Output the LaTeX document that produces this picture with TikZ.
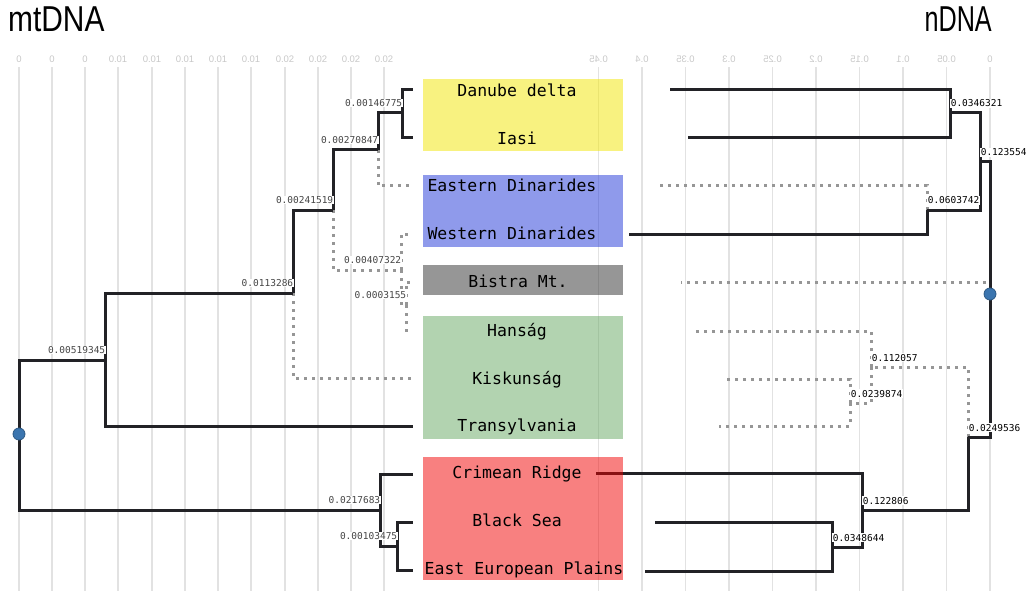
\documentclass[tikz,border=0pt]{standalone}
\usepackage{fontspec}
\usepackage{graphicx}
\setmainfont{Liberation Sans}
\newfontfamily\monofont{DejaVu Sans Mono}
\newfontfamily\titlefont[FakeStretch=0.83]{Liberation Sans}
\newfontfamily\narrowtitlefont[FakeStretch=0.7]{Liberation Sans}
\usetikzlibrary{positioning}

\definecolor{gridgray}{RGB}{226,226,226}
\definecolor{tickgray}{RGB}{200,200,200}
\definecolor{branchblack}{RGB}{34,34,38}
\definecolor{dotgray}{RGB}{150,150,150}
\definecolor{mtlabelgray}{RGB}{70,70,70}
\definecolor{rootblue}{RGB}{59,117,175}
\definecolor{danubeyellow}{RGB}{242,230,2}
\definecolor{dinaridesblue}{RGB}{32,54,215}
\definecolor{bistragray}{RGB}{46,46,46}
\definecolor{pannongreen}{RGB}{102,168,98}
\definecolor{pontusred}{RGB}{241,2,2}

\begin{document}
\begin{tikzpicture}[
				x=1pt, y=-1pt,
				gridline/.style={draw=gridgray, line width=1.3pt},
				ticklabel/.style={text=tickgray, font=\fontsize{9.5}{10}\selectfont, inner sep=0pt},
				group/.style={fill opacity=0.5},
				leaf/.style={font=\monofont\fontsize{16.5}{18}\selectfont, inner sep=0pt, anchor=base},
				branch/.style={draw=branchblack, line width=3pt},
				dotbranch/.style={draw=dotgray, line width=3pt, dash pattern=on 2.8pt off 5.2pt},
				mtlabel/.style={font=\monofont\fontsize{9.5}{10}\selectfont, text=mtlabelgray, anchor=base east,
					fill=white, inner sep=0.6pt, yshift=6.5pt, xshift=1pt},
				nlabel/.style={font=\monofont\fontsize{9.5}{10}\selectfont, text=black, anchor=base west,
					fill=white, inner sep=0.6pt, yshift=6pt},
				rootdot/.style={circle, fill=rootblue, draw=rootblue!75!black, line width=0.8pt,
					minimum size=12pt, inner sep=0pt},
				title/.style={font=\titlefont\fontsize{36}{40}\selectfont, inner sep=0pt}
				]
				\useasboundingbox (0,0) rectangle (1034,591);
				
				\foreach \gx/\gl in {19/0,52/0,85/0,118/0.01,152/0.01,185/0.01,218/0.01,251/0.01,285/0.02,318/0.02,351/0.02,384/0.02} {
					\draw[gridline] (\gx,67) -- (\gx,591);
					\node[ticklabel] at (\gx,59) {\gl};
				}
				\foreach \v in {0.45,0.4,0.35,0.3,0.25,0.2,0.15,0.1,0.05,0} {
					\pgfmathsetmacro{\gx}{990-870*\v}
					\draw[gridline] (\gx,67) -- (\gx,591);
					\node[ticklabel] at (\gx,59) {\scalebox{-1}[1]{\v}};
				}
				
				\node[title, anchor=base west] (mttitle) at (8,32) {mtDNA};
				\node[title, font=\narrowtitlefont\fontsize{36}{40}\selectfont, anchor=base east] (ntitle) at (992,32) {nDNA};
				
				\coordinate (mroot) at (19,434);
				\coordinate (m1) at (105,360);
				\coordinate (m2) at (380,510);
				\coordinate (m3) at (397,546);
				\coordinate (m4) at (293,293);
				\coordinate (m5) at (333,210);
				\coordinate (m6) at (378,150);
				\coordinate (m7) at (401,270);
				\coordinate (m8) at (402,113);
				\coordinate (m9) at (406,305);
				\coordinate (mDanube) at (413,90);
				\coordinate (mIasi) at (413,138);
				\coordinate (mEastern) at (410,186);
				\coordinate (mWestern) at (411,234);
				\coordinate (mBistra) at (412,282);
				\coordinate (mHansag) at (412,330);
				\coordinate (mKisk) at (413,378);
				\coordinate (mTrans) at (413,426);
				\coordinate (mCrimea) at (413,474);
				\coordinate (mBlack) at (413,522);
				\coordinate (mPlains) at (413,570);
				
				\draw[dotbranch] (m4) |- (mKisk);
				\draw[dotbranch] (m5) |- (m7);
				\draw[dotbranch] (m6) |- (mEastern);
				\draw[dotbranch] (m7) |- (mWestern);
				\draw[dotbranch] (m7) |- (m9);
				\draw[dotbranch] (m9) |- (mBistra);
				\draw[dotbranch] (m9) |- (mHansag);
				\draw[branch] (mroot) |- (m1);
				\draw[branch] (mroot) |- (m2);
				\draw[branch] (m1) |- (mTrans);
				\draw[branch] (m1) |- (m4);
				\draw[branch] (m4) |- (m5);
				\draw[branch] (m5) |- (m6);
				\draw[branch] (m6) |- (m8);
				\draw[branch] (m8) |- (mDanube);
				\draw[branch] (m8) |- (mIasi);
				\draw[branch] (m2) |- (mCrimea);
				\draw[branch] (m2) |- (m3);
				\draw[branch] (m3) |- (mBlack);
				\draw[branch] (m3) |- (mPlains);
				
				\coordinate (nroot) at (990,294);
				\coordinate (na) at (950,113);
				\coordinate (nb) at (927,210);
				\coordinate (nc) at (980,162);
				\coordinate (nd) at (968,437);
				\coordinate (ne) at (871,367);
				\coordinate (nf) at (862,510);
				\coordinate (ng) at (850,403);
				\coordinate (nh) at (832,547);
				\coordinate (nDanube) at (670,90);
				\coordinate (nIasi) at (688,138);
				\coordinate (nEastern) at (659,186);
				\coordinate (nWestern) at (629,234);
				\coordinate (nBistra) at (681,282);
				\coordinate (nHansag) at (694,331);
				\coordinate (nKisk) at (726,379);
				\coordinate (nTrans) at (719,426);
				\coordinate (nCrimea) at (596,473);
				\coordinate (nBlack) at (655,522);
				\coordinate (nPlains) at (645,571);
				
				\draw[dotbranch] (nroot) |- (nBistra);
				\draw[dotbranch] (nb) |- (nEastern);
				\draw[dotbranch] (nd) |- (ne);
				\draw[dotbranch] (ne) |- (nHansag);
				\draw[dotbranch] (ne) |- (ng);
				\draw[dotbranch] (ng) |- (nKisk);
				\draw[dotbranch] (ng) |- (nTrans);
				\draw[branch] (nroot) |- (nc);
				\draw[branch] (nroot) |- (nd);
				\draw[branch] (nc) |- (na);
				\draw[branch] (nc) |- (nb);
				\draw[branch] (na) |- (nDanube);
				\draw[branch] (na) |- (nIasi);
				\draw[branch] (nb) |- (nWestern);
				\draw[branch] (nd) |- (nf);
				\draw[branch] (nf) |- (nCrimea);
				\draw[branch] (nf) |- (nh);
				\draw[branch] (nh) |- (nBlack);
				\draw[branch] (nh) |- (nPlains);
				
				\fill[group, fill=danubeyellow] (423,79) rectangle (623,151);
				\fill[group, fill=dinaridesblue] (423,175) rectangle (623,247);
				\fill[group, fill=bistragray] (423,265) rectangle (623,295);
				\fill[group, fill=pannongreen] (423,316) rectangle (623,439);
				\fill[group, fill=pontusred] (423,457) rectangle (623,580);
				
				\node[leaf] (danube) at (517,97) {Danube delta};
				\node[leaf] (iasi) at (517,145) {Iasi};
				\node[leaf] (eastdin) at (512,192) {Eastern Dinarides};
				\node[leaf] (westdin) at (512,239) {Western Dinarides};
				\node[leaf] (bistra) at (518,287) {Bistra Mt.};
				\node[leaf] (hansag) at (517,336) {Hanság};
				\node[leaf] (kiskun) at (517,384) {Kiskunság};
				\node[leaf] (transyl) at (517,431) {Transylvania};
				\node[leaf] (crimea) at (517,478) {Crimean Ridge};
				\node[leaf] (blacksea) at (517,526) {Black Sea};
				\node[leaf] (plains) at (524,574) {East European Plains};
				
				\node[mtlabel] at (m1) {0.00519345};
				\node[mtlabel] at (m2) {0.0217683};
				\node[mtlabel] at (m3) {0.00103475};
				\node[mtlabel] at (m4) {0.0113286};
				\node[mtlabel] at (m5) {0.00241519};
				\node[mtlabel] at (m6) {0.00270847};
				\node[mtlabel] at (m7) {0.00407322};
				\node[mtlabel] at (m8) {0.00146775};
				\node[mtlabel] at (m9) {0.0003155};
				
				\node[nlabel] at (na) {0.0346321};
				\node[nlabel] at (nb) {0.0603742};
				\node[nlabel] at (nc) {0.123554};
				\node[nlabel] at (nd) {0.0249536};
				\node[nlabel] at (ne) {0.112057};
				\node[nlabel] at (nf) {0.122806};
				\node[nlabel] at (ng) {0.0239874};
				\node[nlabel] at (nh) {0.0348644};
				
				\node[rootdot] (mtroot) at (mroot) {};
				\node[rootdot] (nuroot) at (nroot) {};
		\end{tikzpicture}
\end{document}
